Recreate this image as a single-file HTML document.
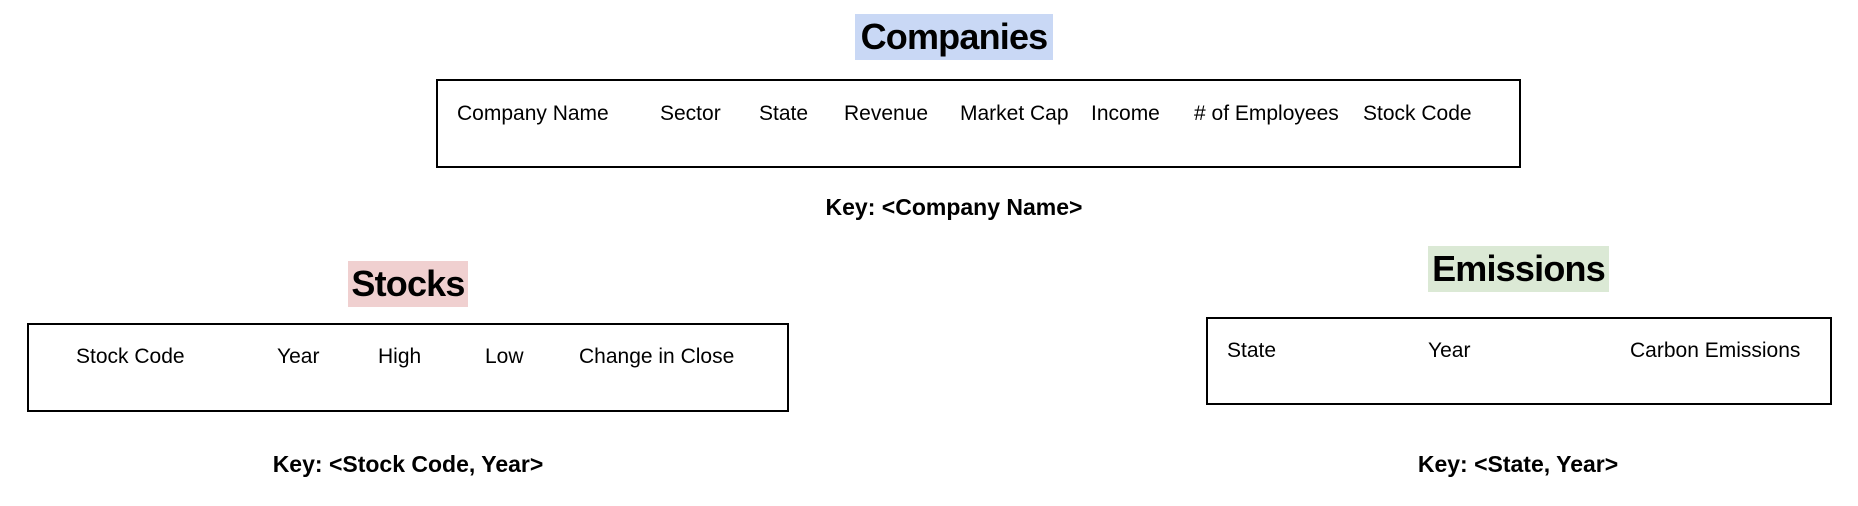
<!DOCTYPE html>
<html><head><meta charset="utf-8"><style>
body{margin:0;width:1858px;height:506px;background:#fff;position:relative;overflow:hidden;font-family:"Liberation Sans",sans-serif;color:#000}
.t{position:absolute;font-weight:bold;font-size:36px;letter-spacing:-0.8px;line-height:46px;text-align:center;white-space:nowrap}
.box{position:absolute;border:2px solid #000;box-sizing:border-box}
.f{position:absolute;font-size:21px;line-height:24px;white-space:nowrap}
.k{position:absolute;font-weight:bold;font-size:23px;line-height:28px;white-space:nowrap;transform:translateX(-50%)}
</style></head><body>
<div class="t" style="left:855px;top:14px;width:198px;background:#c9d8f5">Companies</div>
<div class="box" style="left:436px;top:79px;width:1085px;height:89px"></div>
<div class="f" style="left:457px;top:102px">Company Name</div>
<div class="f" style="left:660px;top:102px">Sector</div>
<div class="f" style="left:759px;top:102px">State</div>
<div class="f" style="left:844px;top:102px">Revenue</div>
<div class="f" style="left:960px;top:102px">Market Cap</div>
<div class="f" style="left:1091px;top:102px">Income</div>
<div class="f" style="left:1194px;top:102px"># of Employees</div>
<div class="f" style="left:1363px;top:102px">Stock Code</div>
<div class="k" style="left:954px;top:193px">Key: &lt;Company Name&gt;</div>

<div class="t" style="left:348px;top:261px;width:120px;background:#f0d0d0">Stocks</div>
<div class="box" style="left:27px;top:323px;width:762px;height:89px"></div>
<div class="f" style="left:76px;top:345px">Stock Code</div>
<div class="f" style="left:277px;top:345px">Year</div>
<div class="f" style="left:378px;top:345px">High</div>
<div class="f" style="left:485px;top:345px">Low</div>
<div class="f" style="left:579px;top:345px">Change in Close</div>
<div class="k" style="left:408px;top:450px">Key: &lt;Stock Code, Year&gt;</div>

<div class="t" style="left:1428px;top:246px;width:181px;background:#dbe9d5">Emissions</div>
<div class="box" style="left:1206px;top:317px;width:626px;height:88px"></div>
<div class="f" style="left:1227px;top:339px">State</div>
<div class="f" style="left:1428px;top:339px">Year</div>
<div class="f" style="left:1630px;top:339px">Carbon Emissions</div>
<div class="k" style="left:1518px;top:450px">Key: &lt;State, Year&gt;</div>
</body></html>
